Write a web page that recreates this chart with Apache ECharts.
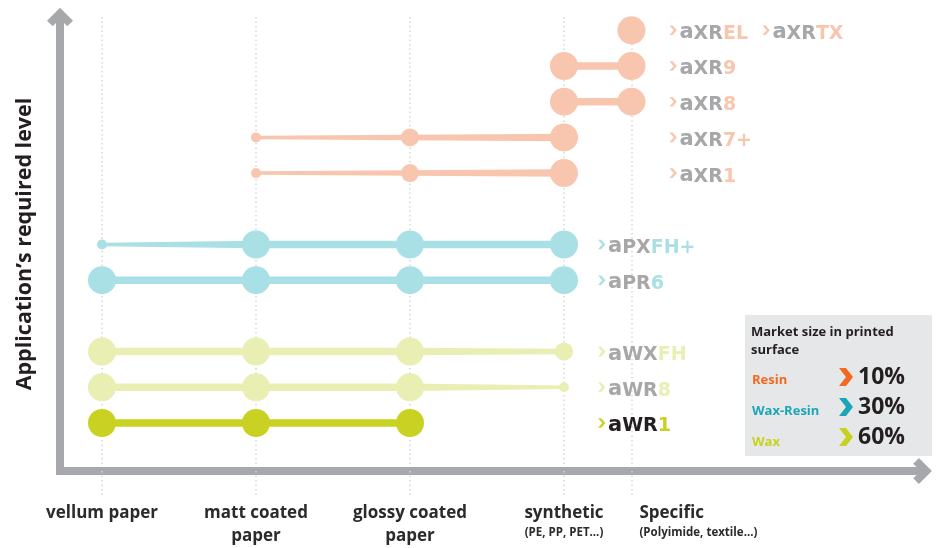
<!DOCTYPE html>
<html><head><meta charset="utf-8">
<script src="https://cdn.jsdelivr.net/npm/echarts@6/dist/echarts.min.js"></script>
<style>html,body{margin:0;padding:0;background:#fff}#main{width:939px;height:548px}</style>
</head><body><div id="main"></div>
<script>
// ---------------- data ----------------
const substrates = ['vellum paper', 'matt coated\npaper', 'glossy coated\npaper', 'synthetic', 'Specific'];
const substrateNotes = ['', '', '', '(PE, PP, PET...)', '(Polyimide, textile...)'];
const substrateX = [0, 1, 2, 3, 3.438];          // position of each substrate on the x scale

// suitability of each ribbon per substrate (0 = none, 1 = low, 2 = medium, 3 = full)
const axrEL  = [0, 0, 0, 0, 3];
const axr9   = [0, 0, 0, 3, 3];
const axr8   = [0, 0, 0, 3, 3];
const axr7p  = [0, 1, 2, 3, 0];
const axr1   = [0, 1, 2, 3, 0];
const apxFHp = [1, 3, 3, 3, 0];
const apr6   = [3, 3, 3, 3, 0];
const awxFH  = [3, 3, 3, 2, 0];
const awr8   = [3, 3, 3, 1, 0];
const awr1   = [3, 3, 3, 0, 0];
const suitability = [axrEL, axr9, axr8, axr7p, axr1, apxFHp, apr6, awxFH, awr8, awr1];

// application's required level (row) of each ribbon
const requiredLevel = [11, 10, 9, 8, 7, 5, 4, 2, 1, 0];
const family = ['resin', 'resin', 'resin', 'resin', 'resin', 'waxresin', 'waxresin', 'wax', 'wax', 'wax1'];
const productNames = [
  [['aXR', 'EL'], ['aXR', 'TX']],
  [['aXR', '9']],
  [['aXR', '8']],
  [['aXR', '7+']],
  [['aXR', '1']],
  [['aPX', 'FH+']],
  [['aPR', '6']],
  [['aWX', 'FH']],
  [['aWR', '8']],
  [['aWR', '1']]
];

const marketInks = ['Resin', 'Wax-Resin', 'Wax'];
const marketShare = [10, 30, 60];

// ---------------- styles ----------------
const FONT = "'Open Sans', sans-serif";
const LOGO = "'DejaVu Sans', sans-serif";
const familyStyle = {
  resin:    { color: '#f8c6ae', base: '#a7a7a9', labelAt: 4, labelDx: 38 },
  waxresin: { color: '#a8e0e5', base: '#a7a7a9', labelAt: 3, labelDx: 34 },
  wax:      { color: '#e9eeb3', base: '#a7a7a9', labelAt: 3, labelDx: 34 },
  wax1:     { color: '#c9d223', base: '#231f20', labelAt: 3, labelDx: 34 }
};
const dotSize = { 1: 10, 2: 18, 3: 28 };
const lineW = { 1: 3.5, 2: 5.5, 3: 7.5 };
const LABEL_STEP = 93;   // px between two product labels on the same row
const inkColors = ['#f26a21', '#1ba6b8', '#c7d21f'];
const AXIS_GRAY = '#a7a8ac';
const GRID_GRAY = '#d6d6d8';
const chevronPath = 'path://M0 13 L13 0 L26 13 L20.3 18.7 L13 11.3 L5.7 18.7 Z';

const X_MIN = -0.2727, X_MAX = 5.3286;
const Y_MIN = -1.345, Y_MAX = 11.373;

function renderRibbon(params, api) {
  const i = params.dataIndex;
  const lv = requiredLevel[i];
  const st = familyStyle[family[i]];
  const suit = suitability[i];
  const pts = substrateX.map(function (x) { return api.coord([x, lv]); });
  const children = [];
  for (let k = 0; k < suit.length - 1; k++) {
    if (suit[k] && suit[k + 1]) {
      const a = pts[k], b = pts[k + 1];
      const wa = lineW[suit[k]] / 2, wb = lineW[suit[k + 1]] / 2;
      children.push({
        type: 'polygon',
        shape: { points: [[a[0], a[1] - wa], [b[0], b[1] - wb], [b[0], b[1] + wb], [a[0], a[1] + wa]] },
        style: { fill: st.color }
      });
    }
  }
  suit.forEach(function (s, k) {
    if (s) {
      children.push({
        type: 'circle',
        shape: { cx: pts[k][0], cy: pts[k][1], r: dotSize[s] / 2 },
        style: { fill: st.color }
      });
    }
  });
  const lp = api.coord([substrateX[st.labelAt], lv]);
  productNames[i].forEach(function (p, j) {
    const x0 = lp[0] + st.labelDx + j * LABEL_STEP;
    const cy = lp[1];
    children.push({
      type: 'polygon',
      shape: { points: [[x0, cy - 4.8], [x0 + 3.2, cy - 4.8], [x0 + 7.4, cy], [x0 + 3.2, cy + 4.8], [x0, cy + 4.8], [x0 + 4.2, cy]] },
      style: { fill: st.color }
    });
    children.push({
      type: 'text',
      x: x0 + 10,
      y: cy - 1,
      style: {
        text: '{a|' + p[0].charAt(0) + '}{b|' + p[0].slice(1) + '}{s|' + p[1] + '}',
        align: 'left',
        verticalAlign: 'middle',
        rich: {
          a: { fill: st.base, fontSize: 21, fontWeight: 'bold', fontFamily: LOGO, lineHeight: 28, verticalAlign: 'bottom' },
          b: { fill: st.base, fontSize: 19, fontWeight: 'bold', fontFamily: LOGO, lineHeight: 28, verticalAlign: 'bottom' },
          s: { fill: st.color, fontSize: 19, fontWeight: 'bold', fontFamily: LOGO, lineHeight: 28, verticalAlign: 'bottom' }
        }
      }
    });
  });
  return { type: 'group', children: children };
}

const axisLabelRich = {
  m: { fontSize: 17, fontWeight: 'bold', color: '#2b2b2b', fontFamily: FONT, lineHeight: 23 },
  n: { fontSize: 11.5, fontWeight: 'bold', color: '#2b2b2b', fontFamily: FONT, lineHeight: 15 }
};
function substrateLabel(k) {
  let s = '{m|' + substrates[k] + '}';
  if (substrateNotes[k]) s += '\n{n|' + substrateNotes[k] + '}';
  return s;
}

// legend box graphics
const legendGraphics = [
  { type: 'rect', left: 745, top: 315, shape: { width: 187, height: 141 }, style: { fill: '#e6e7e8' }, z: 1 },
  { type: 'text', left: 751, top: 323, z: 2,
    style: { text: 'Market size in printed\nsurface', fill: '#231f20', font: 'bold 13px ' + FONT, lineHeight: 18 } }
];
marketInks.forEach(function (ink, i) {
  const cy = 377 + i * 30;
  legendGraphics.push({ type: 'text', x: 752, y: cy + 3 + i, z: 2,
    style: { text: ink, fill: inkColors[i], font: 'bold 13px ' + FONT, verticalAlign: 'middle' } });
  legendGraphics.push({ type: 'polygon', z: 2,
    shape: { points: [[839, cy - 9], [846, cy - 9], [853, cy], [846, cy + 9], [839, cy + 9], [846, cy]] },
    style: { fill: inkColors[i] } });
  legendGraphics.push({ type: 'text', x: 858, y: cy, z: 2,
    style: { text: marketShare[i] + '%', fill: '#231f20', font: 'bold 23px ' + FONT, verticalAlign: 'middle' } });
});

const chart = echarts.init(document.getElementById('main'), null, { renderer: 'canvas' });
chart.setOption({
  animation: false,
  backgroundColor: '#ffffff',
  grid: { left: 60, top: 17, right: 16.4, bottom: 77, outerBoundsMode: 'none', containLabel: false },
  xAxis: [{
    type: 'value', min: X_MIN, max: X_MAX, position: 'bottom',
    axisLine: { show: true, onZero: false, symbol: ['none', chevronPath], symbolSize: [26, 19],
      lineStyle: { color: AXIS_GRAY, width: 8, cap: 'square' } },
    axisTick: { show: true, inside: false, length: 26, customValues: substrateX,
      lineStyle: { color: GRID_GRAY, width: 1.5, type: [1.5, 3] } },
    splitLine: { show: true, lineStyle: { color: GRID_GRAY, width: 1.5, type: [1.5, 3] } },
    axisLabel: { show: true, margin: 31, customValues: [0, 1, 2, 3],
      formatter: function (v) { return substrateLabel(substrateX.indexOf(v)); },
      rich: axisLabelRich }
  }, {
    type: 'value', min: X_MIN, max: X_MAX, position: 'bottom', offset: 0,
    axisLine: { show: false }, axisTick: { show: false }, splitLine: { show: false },
    axisLabel: { show: true, margin: 31, align: 'left', padding: [0, 0, 0, 8], customValues: [substrateX[4]],
      formatter: function () { return substrateLabel(4); },
      rich: axisLabelRich }
  }],
  yAxis: {
    type: 'value', min: Y_MIN, max: Y_MAX, position: 'left',
    name: 'Application’s required level', nameLocation: 'middle', nameRotate: 90, nameGap: 24,
    nameTextStyle: { fontSize: 21.5, fontWeight: 'bold', color: '#231f20', fontFamily: FONT },
    axisLine: { show: true, onZero: false, symbol: ['none', chevronPath], symbolSize: [26, 19],
      lineStyle: { color: AXIS_GRAY, width: 8, cap: 'square' } },
    axisTick: { show: false }, axisLabel: { show: false }, splitLine: { show: false }
  },
  graphic: legendGraphics,
  series: [{
    type: 'custom',
    silent: true,
    clip: false,
    renderItem: renderRibbon,
    encode: { x: 0, y: 1 },
    data: requiredLevel.map(function (lv) { return [0, lv]; }),
    z: 5
  }]
});
</script>
</body></html>
